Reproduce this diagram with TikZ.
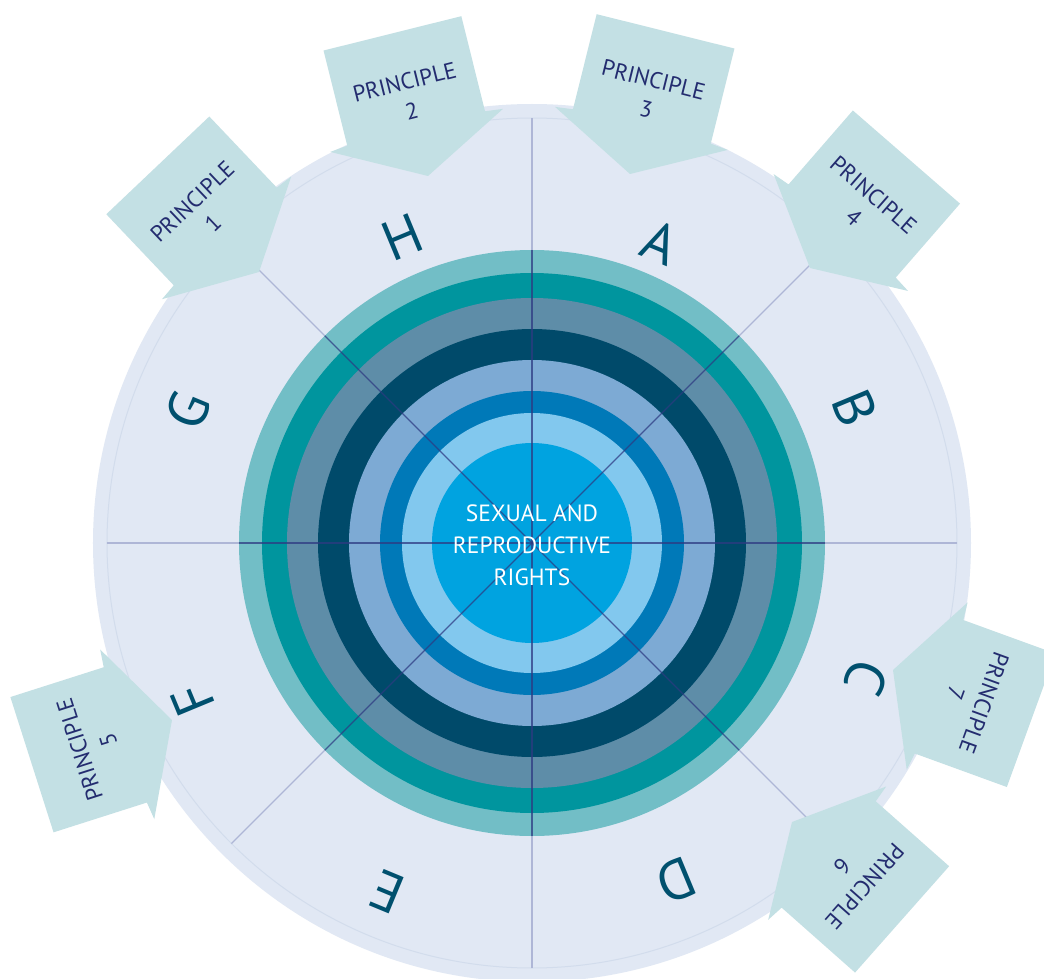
\documentclass[tikz,border=0pt]{standalone}
\usepackage{fontspec}
\setmainfont{PT Sans}
\definecolor{disk}{HTML}{E1E8F4}
\definecolor{diskline}{HTML}{D2DCEC}
\definecolor{ringA}{HTML}{72BEC6}
\definecolor{ringB}{HTML}{00959E}
\definecolor{ringC}{HTML}{5E8DA8}
\definecolor{ringD}{HTML}{004A6A}
\definecolor{ringE}{HTML}{7DAAD4}
\definecolor{ringF}{HTML}{0079B8}
\definecolor{ringG}{HTML}{82C8EE}
\definecolor{ringH}{HTML}{00A3E0}
\definecolor{arrowfill}{HTML}{C3E0E4}
\definecolor{navy}{HTML}{232C6F}
\definecolor{letter}{HTML}{00506E}
\definecolor{spokepale}{HTML}{AEB6D6}
\definecolor{spokedark}{HTML}{2E3A82}
\newcommand\drawprinciple[5]{%
  \begin{scope}[shift={(#2,#3)}, rotate=#4]
    \path[prin] (0,0) -- (-47,89) -- (-49,71) -- (-147,71) -- (-147,-71)
      -- (-49,-71) -- (-47,-89) -- cycle;
    \node[prtext, transform shape, rotate=90] (#1) at (-82,0) {PRINCIPLE\\#5};
  \end{scope}}
\begin{document}
\begin{tikzpicture}[x=1pt,y=1pt,
  prin/.style={fill=arrowfill, draw=none},
  prtext/.style={text=navy, font=\fontsize{23}{30}\selectfont, align=center, inner sep=0pt},
  seg/.style={text=letter, font=\fontsize{56}{56}\selectfont, inner sep=0pt},
  palespoke/.style={draw=spokepale, line width=1.1pt},
  darkspoke/.style={draw=spokedark, opacity=0.75, line width=1.1pt}]
\clip (-532,-435) rectangle (512,543);
\fill[white] (-532,-435) rectangle (512,543);
% outer disk
\fill[disk] (0,0) circle (439);
\draw[diskline, line width=1pt] (0,0) circle (425);
% pale spokes
\foreach \a in {0,45,...,315} \draw[palespoke] (0,0) -- (\a:425);
% rings
\fill[ringA] (0,0) circle (293);
\fill[ringB] (0,0) circle (270);
\fill[ringC] (0,0) circle (245);
\fill[ringD] (0,0) circle (214);
\fill[ringE] (0,0) circle (183);
\fill[ringF] (0,0) circle (152);
\fill[ringG] (0,0) circle (130);
\fill[ringH] (0,0) circle (100);
% dark spokes
\foreach \a in {0,45,...,315} \draw[darkspoke] (0,0) -- (\a:293);
% segment letters
\node[seg, rotate=-22.5] (A) at (128,301) {A};
\node[seg, rotate=-67.5] (B) at (323,135) {B};
\node[seg, rotate=-112.5] (C) at (334,-135) {C};
\node[seg, rotate=-157.5] (D) at (144,-338) {D};
\node[seg, rotate=157.5] (E) at (-145,-349) {E};
\node[seg, rotate=112.5] (F) at (-339,-157) {F};
\node[seg, rotate=67.5] (G) at (-344,133) {G};
\node[seg, rotate=22.5] (H) at (-130,306) {H};
% principles
\drawprinciple{p1}{-273}{271}{-46.5}{1}
\drawprinciple{p2}{-104}{367}{-76}{2}
\drawprinciple{p3}{98}{369}{-104}{3}
\drawprinciple{p4}{278}{275}{-131}{4}
\drawprinciple{p5}{-360}{-177}{17.7}{5}
\drawprinciple{p6}{260}{-279}{138.5}{6}
\drawprinciple{p7}{361}{-127}{160}{7}
% centre text
\node[text=white, font=\fontsize{23.5}{32}\selectfont, align=center, inner sep=0pt] (centre) at (0,-2) {SEXUAL AND\\REPRODUCTIVE\\RIGHTS};
\end{tikzpicture}
\end{document}
